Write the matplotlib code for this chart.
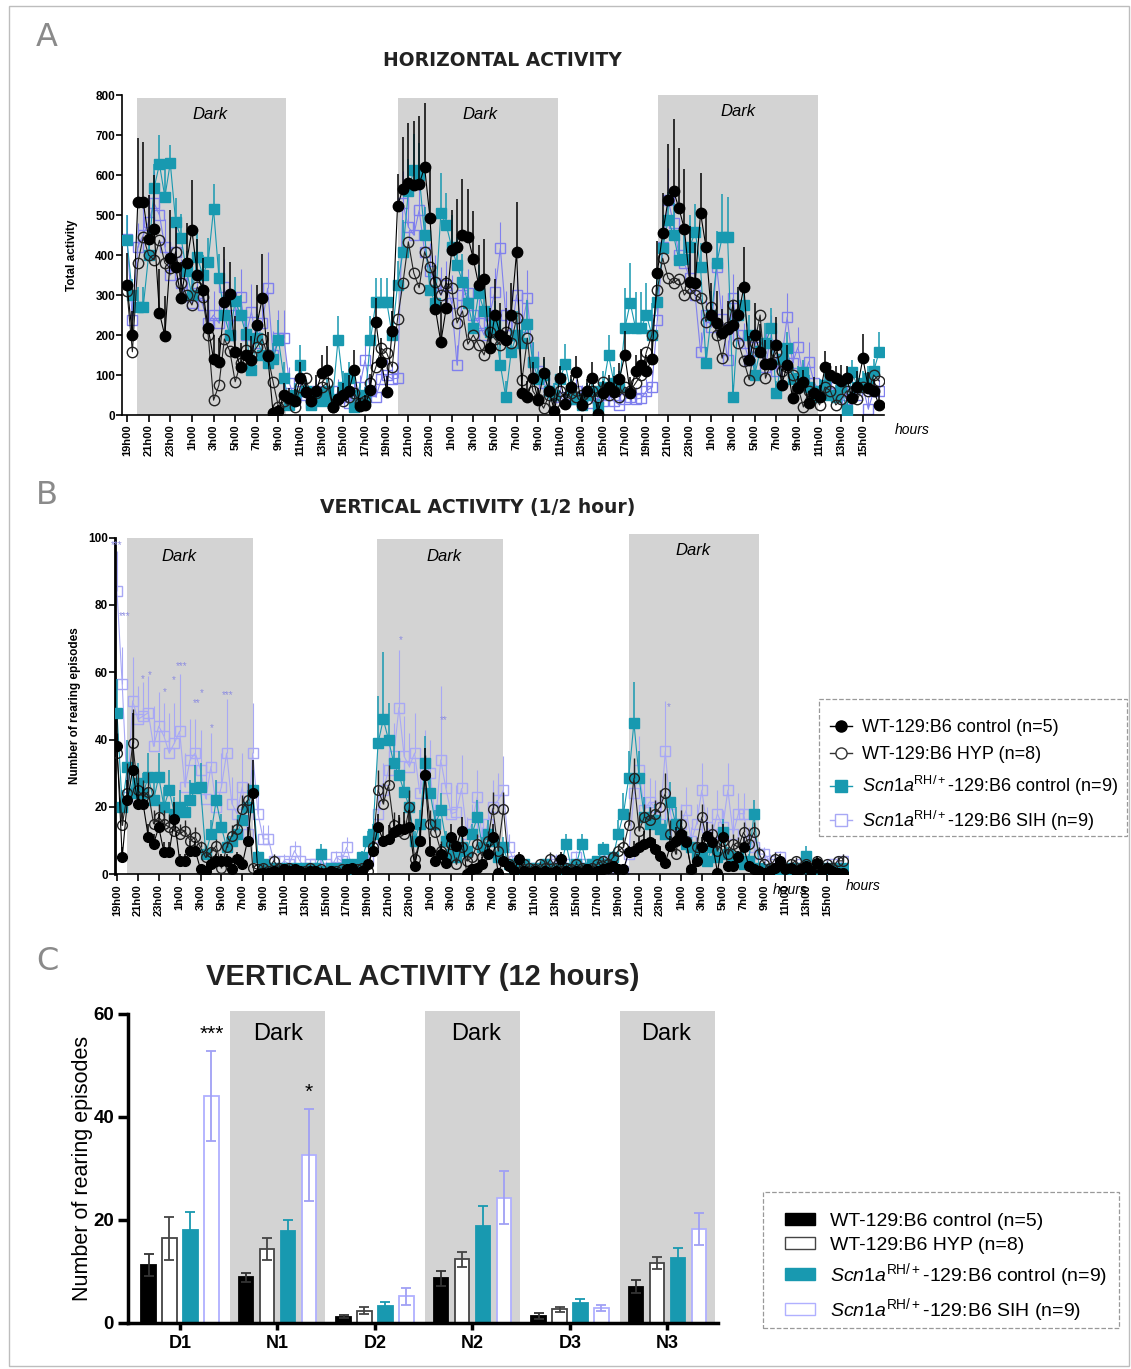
import numpy as np
import matplotlib
matplotlib.use('Agg')
import matplotlib.pyplot as plt
from matplotlib.lines import Line2D
from matplotlib.patches import Patch, Rectangle

plt.rcParams['font.family'] = ['Liberation Sans', 'DejaVu Sans']
plt.rcParams['mathtext.fontset'] = 'custom'
plt.rcParams['mathtext.rm'] = 'Liberation Sans'
plt.rcParams['mathtext.it'] = 'Liberation Sans:italic'

# ---------------- data ----------------
# half-hour bins starting at 19h00
day_labels = ['19h00', '21h00', '23h00', '1h00', '3h00', '5h00', '7h00',
              '9h00', '11h00', '13h00', '15h00', '17h00']
tick_labels = (day_labels * 3)[:35]

# Panel A - horizontal activity
h_wt = [325,200,533,533,440,465,255,198,392,370,
        292,380,462,350,312,217,140,133,283,302,
        158,120,150,138,225,292,148,5,10,50,
        42,35,92,58,35,60,105,112,20,40,
        50,60,112,22,25,62,232,133,58,210,
        523,565,580,575,577,620,492,265,182,268,
        412,420,450,446,390,325,340,167,250,200,
        187,250,408,55,45,92,37,104,60,10,
        92,28,70,108,25,60,92,3,55,70,
        58,90,150,55,110,125,110,140,355,455,
        537,560,517,465,333,329,505,420,250,230,
        205,215,225,250,320,138,200,158,127,127,
        175,75,125,42,67,83,30,55,46,120,
        100,92,85,92,42,70,142,67,60,25]
h_wt_err = [80,60,160,150,110,135,110,100,120,100,
            90,100,125,90,80,100,60,60,137,80,
            90,60,70,60,100,110,60,15,15,30,
            25,30,40,30,25,40,45,60,20,30,
            30,40,50,20,25,40,60,60,40,50,
            80,130,150,160,170,160,130,110,100,80,
            100,120,140,120,120,100,100,100,90,80,
            80,80,125,50,40,40,30,40,40,30,
            30,30,30,40,30,30,40,30,30,30,
            40,40,60,40,40,40,40,50,80,100,
            140,180,150,150,140,100,100,90,80,80,
            60,70,60,70,100,60,80,70,60,60,
            70,40,50,30,30,30,30,40,30,40,
            30,30,40,30,30,40,60,40,30,30]
h_hyp = [310,158,380,445,400,388,437,380,367,408,
         330,300,275,320,295,200,37,75,190,160,
         83,130,162,150,170,190,150,83,20,35,
         40,20,70,92,50,55,70,80,20,40,
         35,45,55,30,35,80,120,167,155,120,
         240,330,433,355,318,408,370,333,300,330,
         317,230,260,177,200,175,150,208,190,175,
         208,180,242,88,192,60,40,17,50,30,
         60,40,55,46,50,40,60,45,83,50,
         60,46,70,60,80,100,158,200,312,392,
         342,330,340,300,317,300,292,233,270,200,
         142,220,275,180,135,88,180,250,92,130,
         158,110,120,100,70,20,60,50,25,70,
         60,25,40,60,55,40,70,60,100,85]
h_ctl = [437,300,270,270,400,567,627,545,630,483,
         442,360,300,395,350,383,515,343,250,200,
         285,250,202,113,192,150,130,140,188,92,
         25,50,125,60,25,40,35,60,40,188,
         70,92,20,50,40,188,283,283,283,200,
         325,408,560,612,600,450,312,280,505,475,
         420,375,333,280,217,305,260,208,225,125,
         45,158,200,180,227,133,90,100,60,50,
         90,127,60,40,25,50,60,20,70,150,
         80,70,217,280,217,217,250,200,283,417,
         487,450,387,390,420,458,370,130,250,380,
         445,445,45,250,275,200,100,160,180,217,
         55,140,167,90,92,108,70,45,60,75,
         50,45,70,12,108,70,80,92,110,158]
h_ctl_err = [63,40,50,50,60,60,73,70,45,60,
             60,50,50,60,50,60,62,60,50,50,
             60,50,50,40,60,40,40,40,50,40,
             30,30,50,30,20,30,25,30,30,60,
             40,40,20,30,30,60,60,60,60,60,
             60,80,80,90,80,70,60,70,100,80,
             80,70,70,60,60,70,60,60,60,50,
             40,60,60,60,60,50,40,40,40,30,
             30,50,30,30,20,30,30,20,40,50,
             40,40,100,100,90,90,80,80,80,70,
             70,80,70,70,80,70,60,40,60,80,
             108,100,30,60,60,50,40,50,50,50,
             30,40,40,30,30,30,30,30,30,30,
             30,30,30,30,30,30,30,30,30,50]
h_sih = [440,237,420,450,483,530,500,420,350,408,
         330,300,280,305,275,230,250,230,320,200,
         250,296,200,258,180,230,317,150,192,192,
         80,40,60,50,30,60,40,50,30,60,
         45,30,50,70,137,60,45,90,100,90,
         92,530,470,450,512,408,360,330,300,325,
         280,125,300,305,250,230,200,250,308,417,
         250,200,300,220,292,133,110,80,60,50,
         45,35,40,60,45,50,30,40,35,50,
         35,25,40,45,40,42,60,70,237,420,
         537,480,400,380,342,300,158,250,220,370,
         240,137,292,200,180,137,170,160,120,200,
         110,140,245,130,170,90,133,80,60,75,
         55,70,50,40,60,50,70,15,60,60]
h_sih_err = [60,50,60,70,70,80,80,70,70,70,
             60,70,60,60,70,70,60,60,70,60,
             60,70,60,70,60,70,90,60,70,70,
             40,30,30,30,20,30,30,30,20,30,
             30,20,30,30,40,30,30,30,40,40,
             40,80,80,70,70,70,70,70,70,60,
             70,50,70,60,60,60,60,60,60,66,
             60,60,60,60,70,50,50,40,40,30,
             30,30,30,30,30,30,30,30,30,30,
             30,30,30,30,30,30,30,40,40,60,
             80,80,70,70,60,60,50,50,50,60,
             60,50,60,50,50,50,50,50,40,50,
             40,40,60,40,50,40,50,40,30,30,
             30,30,30,30,30,30,20,30,30,30]

# Panel B - vertical activity per half hour
v_wt = [38,5,22,31,21,21,11,9,14,6.5,
        6.5,16.5,4,4,7,7,1.5,1,3,4,
        4,4,1.5,4.5,3,10,24,0,0.5,0.5,
        1,0.5,1.5,1,1.5,1,0.5,1,1,0.5,
        0.5,1,0.5,0,1.5,2,0.5,1,3,7,
        14,10,10.5,12.5,13.5,13.5,14,2.5,10,29.5,
        7,4,6,3.5,11,8.5,13,0,1.5,2,
        3,6,11,0.5,4,2.5,1,4.5,1,0.5,
        1,0.5,1,0.5,1,4.5,1,0.5,1,0.5,
        1.5,0.5,1,1.5,2,2.5,1.5,1.5,6.5,7,
        8,9,9.5,7.5,5.5,3.5,8.5,10,12,9.5,
        1.5,4,8,11.5,9.5,0.5,11,2.5,2.5,5,
        8,2.5,1.5,1,0.5,1,2,4,1.5,2,
        1,1.5,2.5,1,3.5,1,2,1,0.5,0.5]
v_wt_err = [8,3,6,17,6,5,4,3,4,3,
            3,5,2,2,3,3,1,1,2,2,
            2,2,1,2,2,4,10,0.5,0.5,0.5,
            0.5,0.5,1,0.5,1,0.5,0.5,0.5,0.5,0.5,
            0.5,0.5,0.5,0.5,1,1,0.5,0.5,1,3,
            4,4,4,4,4,5,5,2,4,8,
            4,2,3,2,4,3,4,0.5,1,1,
            2,3,4,0.5,2,1,1,2,1,0.5,
            0.5,0.5,0.5,0.5,0.5,2,0.5,0.5,0.5,0.5,
            0.5,0.5,0.5,0.5,1,1,1,1,2,3,
            3,4,4,3,3,2,3,4,4,3,
            1,2,3,4,3,0.5,4,1,1,2,
            3,1,1,0.5,0.5,0.5,1,2,1,1,
            0.5,1,1,0.5,2,0.5,1,0.5,0.5,0.5]
v_hyp = [36,14.5,24,39,25,23,24.5,15,17,15,
         14,13,12,13,10,11,8,5,6.5,8.5,
         2,8,11.5,13.5,19.5,22,2,1.5,2,1,
         4,2,1.5,2,1,0.5,1,2,1,1.5,
         0.5,1,1,1.5,0.5,1,1.5,2,1,8,
         25,21,26.5,14.5,13,12,20,4.5,10,29.5,
         15,12.5,7,5,9,3,8,4,5,9,
         5,10,19.5,7,19.5,3,1,2,3,2,
         1.5,3,2,4.5,2,1,2,1.5,3,2,
         1.5,2,3,4,3,5,7,8,14.5,28.5,
         13,17,16,18,20,24,12,6,15,10,
         1,8,17,10,12,7,10,6,9,8,
         12.5,9,12.5,6,3,2,4.5,3,2,3,
         4,2,3,2,4,2,3,2,4,4]
v_hyp_err = [6,4,9,10,6,5,6,4,4,4,
             4,3,3,3,3,3,2,2,2,2,
             1,2,3,3,4,5,1,1,1,1,
             2,1,1,1,1,0.5,1,1,1,1,
             0.5,1,1,1,0.5,1,1,1,1,3,
             6,6,6,4,4,4,5,2,3,6,
             4,4,3,2,3,2,3,2,2,3,
             2,3,5,3,5,1,1,1,1,1,
             1,1,1,2,1,1,1,1,1,1,
             1,1,1,1,1,2,2,3,4,6,
             4,4,4,4,5,6,4,2,4,3,
             1,3,4,3,3,2,3,2,3,3,
             3,3,3,2,1,1,2,1,1,1,
             1,1,1,1,1,1,1,1,1,2]
v_ctl = [48,20,32,24,27,24,29,22,29,20,
         25,18,20,18.5,22,25.5,26,6,12,22,
         14,8,10,12,16,20,25,5,3,2,
         2,1,2,1,2,1,2,1,2,6,
         1,2,1,2,3,1,3,5,10,12,
         39,46,40,33,29.5,24.5,20,10,15,33,
         24,15,19,10,6,5,8,7,12,17,
         8,12,10,5,8,3,2,1,3,1,
         2,1,3,2,1,2,9,2,3,9,
         2,3,4,7.5,3,5,12,18,28.5,45,
         28.5,17,15,16,13.5,12,21.5,15,11,9,
         8,6,5,4,8,5,12.5,6,4,5,
         3,4,18,2,1,1.5,1,2,1,2,
         1,2,5.5,2,1,2,1,2,1,2]
v_ctl_err = [10,5,8,6,6,6,7,6,7,6,
             6,5,5,5,6,7,7,2,4,6,
             4,3,3,3,4,5,6,2,1,1,
             1,0.5,1,0.5,1,0.5,1,0.5,1,3,
             0.5,1,0.5,1,1,0.5,1,2,3,3,
             14,20,11,8,7,6,5,3,4,8,
             6,4,5,3,2,2,3,2,3,5,
             3,4,3,2,3,1,1,0.5,1,0.5,
             1,0.5,1,1,0.5,1,3,1,1,3,
             1,1,1,2,1,2,4,6,8,12,
             8,6,5,5,4,4,6,5,4,3,
             3,2,2,2,3,2,4,2,2,2,
             1,2,4,1,0.5,1,0.5,1,0.5,1,
             0.5,1,3,1,0.5,1,0.5,1,0.5,1]
v_sih = [84,56.5,23,51.5,46,47,48,38,44,41,
         36,39,42.5,26,34,36,31,22.5,32,20,
         26,36,21,18,26,12,36,18,10.5,10.5,
         4,2,4,3,7,4,2,3,3,2,
         3,2,5,4,8,2,1,3,4,8,
         18,25,31,35,49.5,35,32,36,24,33,
         30,15,34,25.5,18,18.5,25.5,12,15,23,
         10,15,20,22,25,8,4,3,2,1,
         2,1,2,3,4,2,3,1,5,3,
         2,3,2,4,2,1,0,1,6,24,
         31,19,21.5,20,15,36.5,18,12,15,19,
         10,15,25,14,12,18,14,25,12,18,
         18,10,8,6,6,4,3,5,2,1,
         2,3,1,0,1,2,1,3,2,4]
v_sih_err = [12,11,8,13,10,10,11,12,10,10,
             12,12,17,10,12,10,12,8,10,8,
             10,16,8,8,10,6,15,6,4,4,
             2,1,2,1,3,2,1,1,1,1,
             1,1,2,2,3,1,0.5,1,2,3,
             6,8,10,10,17,12,10,12,8,10,
             10,6,22,10,8,8,10,5,6,8,
             4,6,8,8,10,4,2,2,1,0.5,
             1,0.5,1,1,2,1,1,0.5,2,1,
             1,1,1,2,1,0.5,0.5,1,3,8,
             10,8,7,8,6,15,6,5,6,7,
             4,6,8,6,5,7,5,8,5,6,
             6,4,3,3,2,2,1,2,1,1,
             1,1,0.5,0.5,1,1,0.5,1,1,2]
# significance marks (bin, height, text)
star_bin = [0, 1.5, 5, 6.2, 9.2, 10.9, 12.4, 15.3, 16.2, 18.1, 21.1, 54.3, 62.6, 105.6]
star_y = [97.8, 76.7, 57.9, 59.2, 54, 57.7, 61.9, 50.8, 53.8, 43.4, 53.2, 69.6, 45.8, 49.6]
star_txt = ['***', '***', '*', '*', '*', '*', '***', '**', '*', '*', '***', '*', '**', '*']

# Panel C - 12 hour totals
periods = ['D1', 'N1', 'D2', 'N2', 'D3', 'N3']
c_wt = [11.2, 8.8, 1.2, 8.6, 1.3, 7.0]
c_wt_err = [2.1, 0.9, 0.3, 1.5, 0.5, 1.3]
c_hyp = [16.4, 14.3, 2.3, 12.3, 2.6, 11.6]
c_hyp_err = [4.2, 2.1, 0.7, 1.4, 0.5, 1.2]
c_ctl = [18.0, 17.9, 3.25, 18.7, 3.9, 12.5]
c_ctl_err = [3.5, 2.1, 0.85, 3.9, 0.65, 2.0]
c_sih = [44.1, 32.6, 5.1, 24.3, 2.8, 18.2]
c_sih_err = [8.8, 8.9, 1.6, 5.1, 0.6, 3.1]

labels = ['WT-129:B6 control (n=5)', 'WT-129:B6 HYP (n=8)',
          r'$\mathit{Scn1a}^{\mathrm{RH/+}}$-129:B6 control (n=9)',
          r'$\mathit{Scn1a}^{\mathrm{RH/+}}$-129:B6 SIH (n=9)']

# ---------------- style ----------------
TEAL = '#1899b0'
BLUE = '#8080ee'
BLUE_L = '#a8a8f5'
SHADE = '#d3d3d3'

W, H = 1131, 1369
fig = plt.figure(figsize=(W / 100, H / 100), dpi=100)


def px_axes(l, t, r, b):
    return fig.add_axes([l / W, 1 - b / H, (r - l) / W, (b - t) / H])


def series(ax, y, err, color, mfc, marker, ms, elw, z, ecolor=None):
    x = np.arange(len(y))
    if err is not None:
        ax.errorbar(x, y, yerr=[np.zeros(len(y)), err], fmt='none',
                    ecolor=ecolor or color, elinewidth=elw, capsize=0, zorder=z)
    ax.plot(x, y, color=color, lw=0.8, marker=marker, ms=ms, mfc=mfc,
            mec=color, mew=1.0, zorder=z + 0.5)


def time_axis(ax, left_lw):
    ax.spines['top'].set_visible(False)
    ax.spines['right'].set_visible(False)
    ax.spines['bottom'].set_linewidth(1.2)
    ax.spines['left'].set_linewidth(left_lw)
    ax.set_xticks(np.arange(0, 140, 4))
    ax.set_xticklabels(tick_labels, rotation=90, fontsize=8, fontweight='bold')
    ax.tick_params(axis='x', length=5, width=1.2, pad=2)
    ax.tick_params(axis='y', length=4, width=1.2, labelsize=8.5, pad=1)
    for t in ax.get_yticklabels():
        t.set_fontweight('bold')


def dashed_legend(handles, box, anchor, **kw):
    # dashed box drawn separately so padding can differ per side
    l, t, r, b = box
    fig.patches.append(Rectangle((l / W, 1 - b / H), (r - l) / W, (b - t) / H, fill=False,
                                 ec='#999999', lw=0.9, ls='--', transform=fig.transFigure))
    return fig.legend(handles, labels, loc='upper left',
                      bbox_to_anchor=(anchor[0] / W, 1 - anchor[1] / H),
                      borderaxespad=0, borderpad=0, frameon=False, **kw)


# ---------------- panel A ----------------
axA = px_axes(122, 95, 884, 415)
axA.set_xlim(-0.92, 139.9)
axA.set_ylim(0, 800)
for a, b, top in [(1.85, 29.4, 792), (50.1, 79.7, 792), (98.2, 127.7, 800)]:
    axA.add_patch(Rectangle((a, 0), b - a, top, color=SHADE, lw=0, zorder=0))
for xd, yd in [(15.3, 752), (65.2, 752), (112.9, 760)]:
    axA.text(xd, yd, 'Dark', style='italic', fontsize=12, ha='center', va='center')
series(axA, h_sih, h_sih_err, BLUE, 'none', 's', 7.5, 0.8, 2)
series(axA, h_ctl, h_ctl_err, TEAL, TEAL, 's', 7.5, 1.1, 3)
series(axA, h_hyp, None, '#222222', 'none', 'o', 7.5, 1.0, 4)
series(axA, h_wt, h_wt_err, 'black', 'black', 'o', 7.5, 1.1, 5)
axA.set_yticks(range(0, 801, 100))
time_axis(axA, 1.2)
axA.set_ylabel('Total activity', fontsize=8.5, fontweight='bold')
axA.yaxis.set_label_coords(-0.058, 0.5)
fig.text(912 / W, 1 - 430 / H, 'hours', style='italic', fontsize=10, ha='center', va='center')

# ---------------- panel B ----------------
axB = px_axes(115, 537.6, 848, 874.3)
axB.set_xlim(-0.38, 140)
axB.set_ylim(0, 100)
for a, b, top in [(1.86, 26.0, 100), (49.75, 73.9, 99.5), (98.1, 123.0, 101)]:
    axB.add_patch(Rectangle((a, 0), b - a, top, color=SHADE, lw=0, zorder=0, clip_on=False))
for xd, yd in [(11.9, 94.5), (62.6, 94.3), (110.3, 96.3)]:
    axB.text(xd, yd, 'Dark', style='italic', fontsize=12, ha='center', va='center')
series(axB, v_sih, v_sih_err, BLUE_L, 'none', 's', 7, 0.8, 2)
series(axB, v_ctl, v_ctl_err, TEAL, TEAL, 's', 7, 1.1, 3)
series(axB, v_hyp, v_hyp_err, '#222222', 'none', 'o', 7, 1.0, 4)
series(axB, v_wt, v_wt_err, 'black', 'black', 'o', 7, 1.1, 5)
for xs, ys, s in zip(star_bin, star_y, star_txt):
    axB.text(xs, ys, s, color='#8c8ce0', fontsize=7, ha='center', va='center', zorder=6)
axB.set_yticks(range(0, 101, 20))
time_axis(axB, 2.0)
axB.set_ylabel('Number of rearing episodes', fontsize=8.5, fontweight='bold')
axB.yaxis.set_label_coords(-0.047, 0.5)
fig.text(863 / W, 1 - 886 / H, 'hours', style='italic', fontsize=10, ha='center', va='center')
fig.text(790 / W, 1 - 890 / H, 'hours', style='italic', fontsize=10, ha='center', va='center',
         zorder=-1)

hB = [Line2D([0], [0], color='black', marker='o', ms=8, mfc='black', lw=1),
      Line2D([0], [0], color='#333333', marker='o', ms=8, mfc='white', lw=1),
      Line2D([0], [0], color=TEAL, marker='s', ms=8, mfc=TEAL, lw=1),
      Line2D([0], [0], color=BLUE_L, marker='s', ms=8, mfc='white', lw=1)]
dashed_legend(hB, (819, 699, 1127, 836), (830, 719), fontsize=13, handlelength=1.2,
              handletextpad=0.55, labelspacing=0.58)

# ---------------- panel C ----------------
axC = px_axes(128, 1014, 718, 1322.7)
axC.set_xlim(-0.533, 5.518)
axC.set_ylim(0, 60)
for c in [1, 3, 5]:
    axC.add_patch(Rectangle((c - 0.487, 0), 0.974, 60.6, color=SHADE, lw=0, zorder=0, clip_on=False))
for xd in [1.005, 3.036, 4.985]:
    axC.text(xd, 56.2, 'Dark', fontsize=17, ha='center', va='center')
xc = np.arange(len(periods))
step, bw = 0.215, 0.147
groups = [(c_wt, c_wt_err, 'black', 'black', '#333333'),
          (c_hyp, c_hyp_err, 'white', '#444444', '#444444'),
          (c_ctl, c_ctl_err, TEAL, TEAL, TEAL),
          (c_sih, c_sih_err, 'white', '#b0b0ff', '#a0a0f5')]
for k, (vals, err, fc, ec, errc) in enumerate(groups):
    axC.bar(xc + (k - 1.5) * step, vals, bw, color=fc, edgecolor=ec, lw=1.3, zorder=2,
            yerr=err, error_kw=dict(ecolor=errc, elinewidth=1.3, capsize=3.5, capthick=1.3))
axC.text(xc[0] + 1.5 * step, 56, '***', fontsize=15, ha='center', va='center')
axC.text(xc[1] + 1.5 * step, 44.7, '*', fontsize=15, ha='center', va='center')
axC.spines['top'].set_visible(False)
axC.spines['right'].set_visible(False)
axC.spines['left'].set_linewidth(2.5)
axC.spines['bottom'].set_linewidth(2.5)
axC.set_yticks([0, 20, 40, 60])
axC.set_xticks(xc)
axC.set_xticklabels(periods, fontsize=13, fontweight='bold')
axC.tick_params(axis='y', length=7, width=2.5, labelsize=13.5, pad=3)
axC.tick_params(axis='x', length=5, width=2.5, pad=4)
for t in axC.get_yticklabels():
    t.set_fontweight('bold')
axC.set_ylabel('Number of rearing episodes', fontsize=15.5)
axC.yaxis.set_label_coords(-0.06, 0.5)

hC = [Patch(fc='black', ec='black'), Patch(fc='white', ec='#444444'),
      Patch(fc=TEAL, ec=TEAL), Patch(fc='white', ec='#b0b0ff')]
dashed_legend(hC, (763, 1192, 1119, 1328), (785, 1213), fontsize=14, handlelength=1.55,
              handleheight=0.6, handletextpad=0.75, labelspacing=0.36)

# ---------------- titles and labels ----------------
fig.text(502 / W, 1 - 60 / H, 'HORIZONTAL ACTIVITY', fontsize=13.5, fontweight='bold',
         family=['DejaVu Sans'], ha='center', va='center', color='#222222')
fig.text(478 / W, 1 - 507 / H, 'VERTICAL ACTIVITY (1/2 hour)', fontsize=13.5, fontweight='bold',
         family=['DejaVu Sans'], ha='center', va='center', color='#222222')
fig.text(423 / W, 1 - 977 / H, 'VERTICAL ACTIVITY (12 hours)', fontsize=21, fontweight='bold',
         ha='center', va='center', color='#222222')
for s, yy in [('A', 38), ('B', 496), ('C', 961)]:
    fig.text(47 / W, 1 - yy / H, s, fontsize=23, color='#8a8a8a', ha='center', va='center',
             family=['DejaVu Sans'])

fig.patches.append(Rectangle((9 / W, 1 - 1366 / H), 1120 / W, 1360 / H, fill=False,
                             ec='#bdbdbd', lw=1, transform=fig.transFigure))

fig.savefig('out.png', dpi=100)
